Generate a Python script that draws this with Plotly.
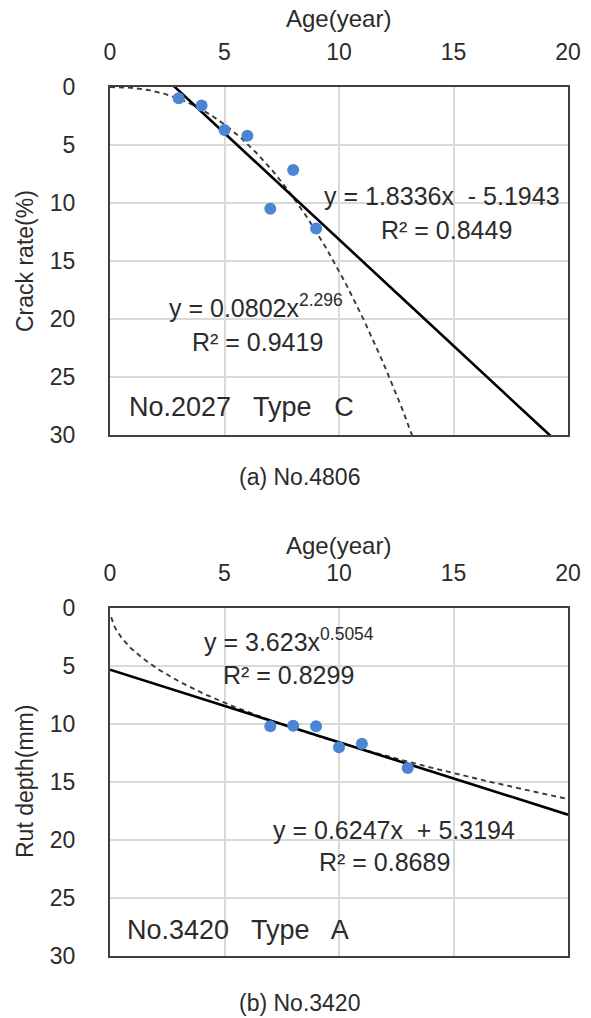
import numpy as np
import plotly.graph_objects as go

# ---- data ----
age_a = [3, 4, 5, 6, 7, 8, 9]
crack_a = [0.97, 1.6, 3.7, 4.2, 10.5, 7.15, 12.2]
lin_a = (1.8336, -5.1943)        # slope, intercept
pow_a = (0.0802, 2.296)          # coef, exponent

age_b = [7, 8, 9, 10, 11, 13]
rut_b = [10.2, 10.15, 10.2, 12.0, 11.7, 13.8]
lin_b = (0.6247, 5.3194)
pow_b = (3.623, 0.5054)

x_ticks = [0, 5, 10, 15, 20]
y_ticks = [0, 5, 10, 15, 20, 25, 30]

FONT = "Liberation Sans"
TXT = "#2b2b2b"
W, H = 591, 1018

fig = go.Figure()

xs = np.linspace(0, 20, 401)
xs_p = np.linspace(0.05, 20, 400)

def add_panel(row, xd, yd, lin, pw, xp):
    xa = "x" if row == 1 else "x2"
    ya = "y" if row == 1 else "y2"
    fig.add_trace(go.Scatter(x=xp, y=pw[0] * xp ** pw[1], mode="lines",
                             line=dict(color="#3a3a3a", width=1.9, dash="5px,4px"),
                             xaxis=xa, yaxis=ya, showlegend=False, hoverinfo="skip"))
    fig.add_trace(go.Scatter(x=xs, y=lin[0] * xs + lin[1], mode="lines",
                             line=dict(color="#000000", width=2.6),
                             xaxis=xa, yaxis=ya, showlegend=False, hoverinfo="skip"))
    fig.add_trace(go.Scatter(x=xd, y=yd, mode="markers",
                             marker=dict(color="#4A86D4", size=12),
                             xaxis=xa, yaxis=ya, showlegend=False, cliponaxis=True))

add_panel(1, age_a, crack_a, lin_a, pow_a, np.linspace(0, 20, 401))
add_panel(2, age_b, rut_b, lin_b, pow_b, xs_p)

px_l, px_r = 110, 568
def vdom(top, bot):
    return [1 - bot / H, 1 - top / H]

xcommon = dict(range=[0, 20], tickvals=x_ticks, side="top", showgrid=True,
               gridcolor="#d9d9d9", gridwidth=1.5, showline=True, linecolor="#404040",
               linewidth=2, mirror=True, ticks="outside", ticklen=16,
               tickcolor="rgba(0,0,0,0)", zeroline=False, automargin=False,
               tickfont=dict(family=FONT, size=23, color=TXT),
               domain=[px_l / W, px_r / W])
ycommon = dict(range=[30, 0], tickvals=y_ticks, showgrid=True,
               gridcolor="#d9d9d9", gridwidth=1.5, showline=True, linecolor="#404040",
               linewidth=2, mirror=True, ticks="outside", ticklen=28,
               tickcolor="rgba(0,0,0,0)", zeroline=False, automargin=False,
               tickfont=dict(family=FONT, size=23, color=TXT))

fig.update_layout(
    width=W, height=H, autosize=False,
    margin=dict(l=0, r=0, t=0, b=0, pad=0),
    paper_bgcolor="white", plot_bgcolor="white",
    xaxis=dict(**xcommon, anchor="y"),
    yaxis=dict(**ycommon, anchor="x", domain=vdom(87, 435)),
    xaxis2=dict(**xcommon, anchor="y2"),
    yaxis2=dict(**ycommon, anchor="x2", domain=vdom(608, 956)),
)

def pa(text, x, y, size=23, angle=0):
    fig.add_annotation(text=text, x=x / W, y=1 - y / H, xref="paper", yref="paper",
                       showarrow=False, xanchor="center", yanchor="middle",
                       textangle=angle, font=dict(family=FONT, size=size, color=TXT))

def da(text, x, y, ax, ay, anchor="left", size=25):
    fig.add_annotation(text=text, x=x, y=y, xref=ax, yref=ay, showarrow=False,
                       xanchor=anchor, yanchor="middle",
                       font=dict(family=FONT, size=size, color=TXT))

NB = "\u00a0"
pa("Age(year)", 338, 18, size=24)
pa("Age(year)", 338, 545, size=24)
pa("Crack rate(%)", 25, 261, size=23, angle=-90)
pa("Rut depth(mm)", 25, 782, size=23, angle=-90)
pa("(a) No.4806", 299, 477, size=23)
pa("(b) No.3420", 299, 1003, size=23)

# panel a texts
da("y = 1.8336x" + NB + " - 5.1943", 9.25, 9.4, "x", "y")
da("R² = 0.8449", 14.7, 12.3, "x", "y", anchor="center")
da("y = 0.0802x<sup>2.296</sup>", 2.5, 18.9, "x", "y")
da("R² = 0.9419", 6.45, 22.0, "x", "y", anchor="center")
da("No.2027" + NB + NB + " Type" + NB + NB + " C", 0.75, 27.6, "x", "y", size=27)

# panel b texts
da("y = 3.623x<sup>0.5054</sup>", 4.0, 2.8, "x2", "y2")
da("R² = 0.8299", 7.8, 5.8, "x2", "y2", anchor="center")
da("y = 0.6247x" + NB + " + 5.3194", 7.05, 19.1, "x2", "y2")
da("R² = 0.8689", 12.0, 21.9, "x2", "y2", anchor="center")
da("No.3420" + NB + NB + " Type" + NB + NB + " A", 0.65, 27.8, "x2", "y2", size=27)

fig.write_html("out.html", config={"displayModeBar": False},
               post_script="document.body.style.margin='0';document.body.style.overflow='hidden';")
